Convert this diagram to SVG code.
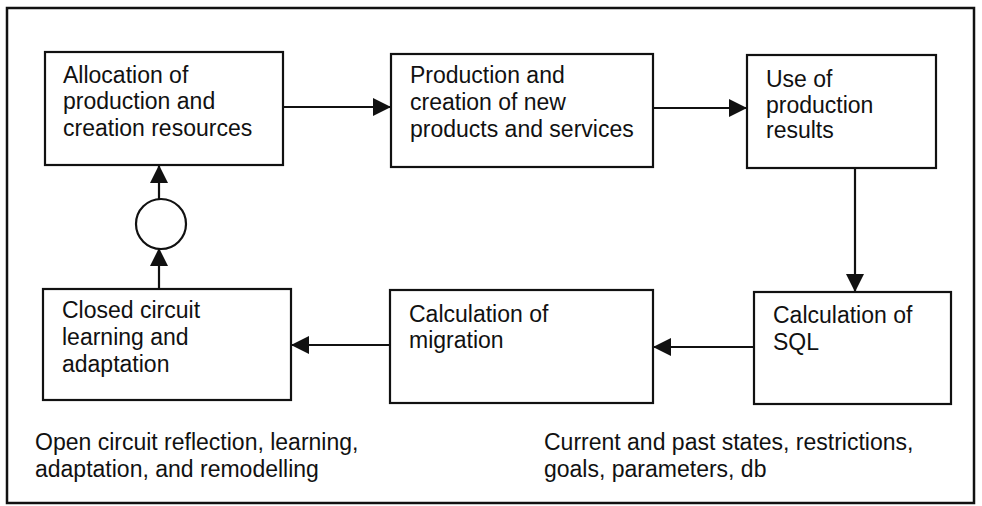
<svg xmlns="http://www.w3.org/2000/svg" width="982" height="506" viewBox="0 0 982 506">
<defs>
<style>
.box{fill:#fff;stroke:#111;stroke-width:2.2}
.t{font-family:"Liberation Sans",Arial,sans-serif;font-size:23px;fill:#111}
.c{stroke:#111;stroke-width:2.2;fill:none}
</style>
<marker id="ah" viewBox="0 0 18 18" refX="18" refY="9" markerWidth="18" markerHeight="18" markerUnits="userSpaceOnUse" orient="auto">
<path d="M0,0 L18,9 L0,18 Z" fill="#111"/>
</marker>
</defs>
<rect width="982" height="506" fill="#fff"/>
<rect x="7" y="8" width="967" height="495" fill="none" stroke="#111" stroke-width="2.5"/>
<g id="connectors">
<line class="c" x1="283" y1="107" x2="391" y2="107" marker-end="url(#ah)"/>
<line class="c" x1="653" y1="108" x2="747" y2="108" marker-end="url(#ah)"/>
<line class="c" x1="855" y1="168" x2="855" y2="292" marker-end="url(#ah)"/>
<line class="c" x1="754" y1="347" x2="653" y2="347" marker-end="url(#ah)"/>
<line class="c" x1="390" y1="345" x2="291" y2="345" marker-end="url(#ah)"/>
<line class="c" x1="159" y1="289" x2="159" y2="248" marker-end="url(#ah)"/>
<line class="c" x1="159" y1="200" x2="159" y2="165" marker-end="url(#ah)"/>
</g>
<g id="junction">
<circle cx="161" cy="224" r="25" fill="#fff" stroke="#111" stroke-width="2.2"/>
</g>
<g id="n1">
<rect class="box" x="45" y="52" width="238" height="113"/>
<text class="t" x="63" y="83">Allocation of</text>
<text class="t" x="63" y="109">production and</text>
<text class="t" x="63" y="136">creation resources</text>
</g>
<g id="n2">
<rect class="box" x="391" y="54" width="262" height="113"/>
<text class="t" x="410" y="83">Production and</text>
<text class="t" x="410" y="110">creation of new</text>
<text class="t" x="410" y="137">products and services</text>
</g>
<g id="n3">
<rect class="box" x="747" y="55" width="189" height="113"/>
<text class="t" x="766" y="87">Use of</text>
<text class="t" x="766" y="113">production</text>
<text class="t" x="766" y="138">results</text>
</g>
<g id="n4">
<rect class="box" x="43" y="289" width="248" height="111"/>
<text class="t" x="62" y="318">Closed circuit</text>
<text class="t" x="62" y="345">learning and</text>
<text class="t" x="62" y="372">adaptation</text>
</g>
<g id="n5">
<rect class="box" x="390" y="290" width="263" height="113"/>
<text class="t" x="409" y="322">Calculation of</text>
<text class="t" x="409" y="348">migration</text>
</g>
<g id="n6">
<rect class="box" x="754" y="292" width="197" height="112"/>
<text class="t" x="773" y="323">Calculation of</text>
<text class="t" x="773" y="350">SQL</text>
</g>
<g id="notes">
<text class="t" x="35" y="450">Open circuit reflection, learning,</text>
<text class="t" x="35" y="477">adaptation, and remodelling</text>
<text class="t" x="544" y="450">Current and past states, restrictions,</text>
<text class="t" x="544" y="477">goals, parameters, db</text>
</g>
</svg>
